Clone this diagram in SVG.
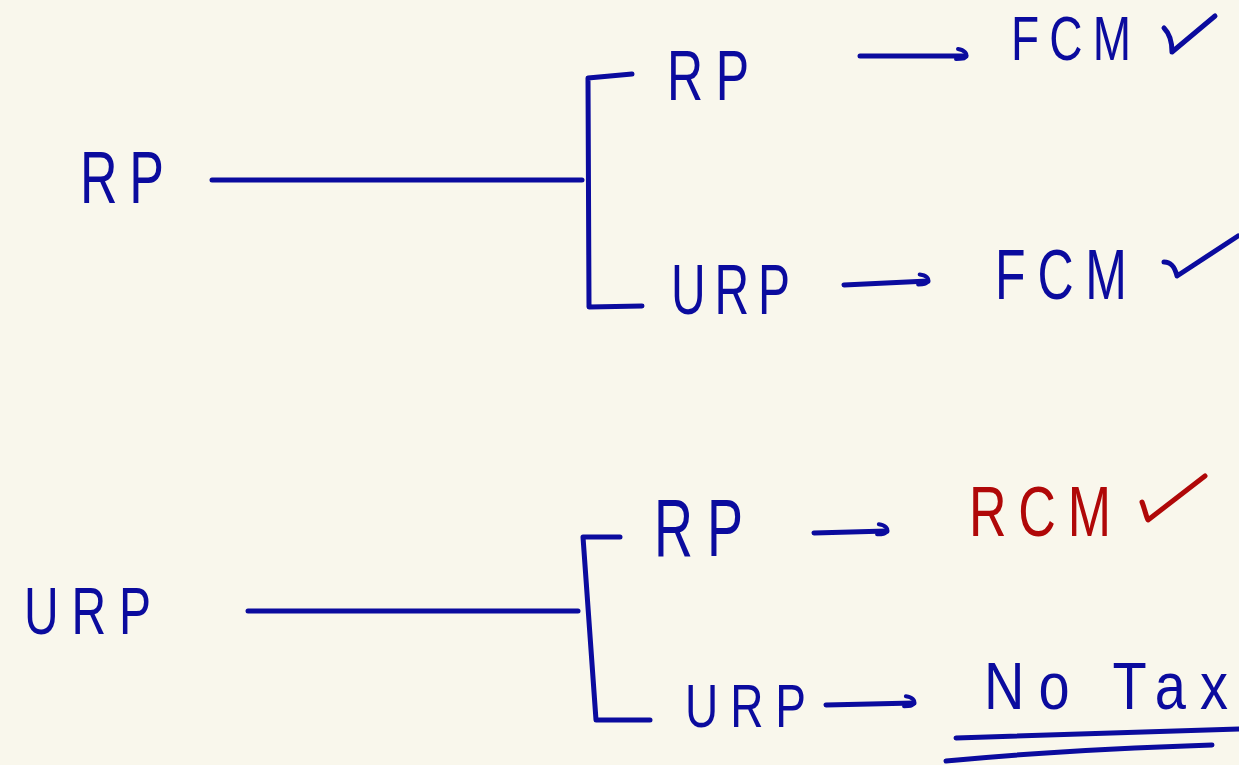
<svg xmlns="http://www.w3.org/2000/svg" width="1239" height="765" viewBox="0 0 1239 765">
  <defs>
    <style>
      .ink { fill: none; stroke: #0b0b9e; stroke-width: 5; stroke-linecap: round; stroke-linejoin: round; }
      .red { fill: none; stroke: #b00808; stroke-width: 5; stroke-linecap: round; stroke-linejoin: round; }
      .lbl { font-family: "Liberation Sans", Arial, sans-serif; fill: #0b0b9e; }
      .lbl-red { font-family: "Liberation Sans", Arial, sans-serif; fill: #b00808; }
    </style>
    <!-- small hooked pen-style arrowhead -->
    <marker id="hook" viewBox="-12 -10 16 16" markerWidth="16" markerHeight="16" refX="0" refY="0" orient="auto" markerUnits="userSpaceOnUse">
      <path d="M -8 -7 C -1 -6, 1 -2, 0 0 C -1 3, -5 3, -10 3" fill="none" stroke="#0b0b9e" stroke-width="4" stroke-linecap="round"/>
    </marker>
  </defs>

  <rect width="1239" height="765" fill="#f9f7ec"/>

  <!-- connectors: trunk lines, brackets, arrows -->
  <g id="connectors">
    <!-- upper tree -->
    <path class="ink" d="M 212 180 L 582 180"/>
    <path class="ink" d="M 632 74 L 588 78 L 589 307 L 642 306"/>
    <path class="ink" d="M 860 56 L 966 56" marker-end="url(#hook)"/>
    <path class="ink" d="M 844 285 L 928 281" marker-end="url(#hook)"/>
    <!-- lower tree -->
    <path class="ink" d="M 248 611 L 578 611"/>
    <path class="ink" d="M 620 537 L 583 537 L 596 720 L 650 720"/>
    <path class="ink" d="M 814 533 L 887 531" marker-end="url(#hook)"/>
    <path class="ink" d="M 826 705 L 914 703" marker-end="url(#hook)"/>
  </g>

  <!-- upper tree nodes -->
  <g id="node-rp-root">
    <text class="lbl" transform="translate(80 203) scale(1 1.42)" font-size="52" textLength="84" lengthAdjust="spacing">RP</text>
  </g>
  <g id="node-rp-rp">
    <text class="lbl" transform="translate(667 100) scale(1 1.4)" font-size="50" textLength="82" lengthAdjust="spacing">RP</text>
  </g>
  <g id="node-rp-urp">
    <text class="lbl" transform="translate(671 314) scale(1 1.45)" font-size="48" textLength="119" lengthAdjust="spacing">URP</text>
  </g>
  <g id="node-fcm-1">
    <text class="lbl" transform="translate(1011 60) scale(1 1.37)" font-size="46" textLength="120" lengthAdjust="spacing">FCM</text>
    <path class="ink" d="M 1164 28 C 1170 34, 1172 44, 1172 52 L 1215 16"/>
  </g>
  <g id="node-fcm-2">
    <text class="lbl" transform="translate(995 299) scale(1 1.4)" font-size="50" textLength="132" lengthAdjust="spacing">FCM</text>
    <path class="ink" d="M 1164 262 C 1172 262, 1175 268, 1177 276 L 1238 236"/>
  </g>

  <!-- lower tree nodes -->
  <g id="node-urp-root">
    <text class="lbl" transform="translate(24 634) scale(1 1.37)" font-size="48" textLength="127" lengthAdjust="spacing">URP</text>
  </g>
  <g id="node-urp-rp">
    <text class="lbl" transform="translate(654 556) scale(1 1.5)" font-size="54" textLength="89" lengthAdjust="spacing">RP</text>
  </g>
  <g id="node-urp-urp">
    <text class="lbl" transform="translate(685 727) scale(1 1.31)" font-size="46" textLength="121" lengthAdjust="spacing">URP</text>
  </g>
  <g id="node-rcm">
    <text class="lbl-red" transform="translate(969 536) scale(1 1.34)" font-size="52" textLength="142" lengthAdjust="spacing">RCM</text>
    <path class="red" d="M 1142 502 C 1145 510, 1146 516, 1148 520 L 1205 476"/>
  </g>
  <g id="node-no-tax">
    <text class="lbl" transform="translate(984 709) scale(1 1.2)" font-size="56" textLength="244" lengthAdjust="spacing">No Tax</text>
    <path class="ink" d="M 956 738 L 1239 729"/>
    <path class="ink" d="M 946 761 C 1040 752, 1150 747, 1212 745"/>
  </g>
</svg>
